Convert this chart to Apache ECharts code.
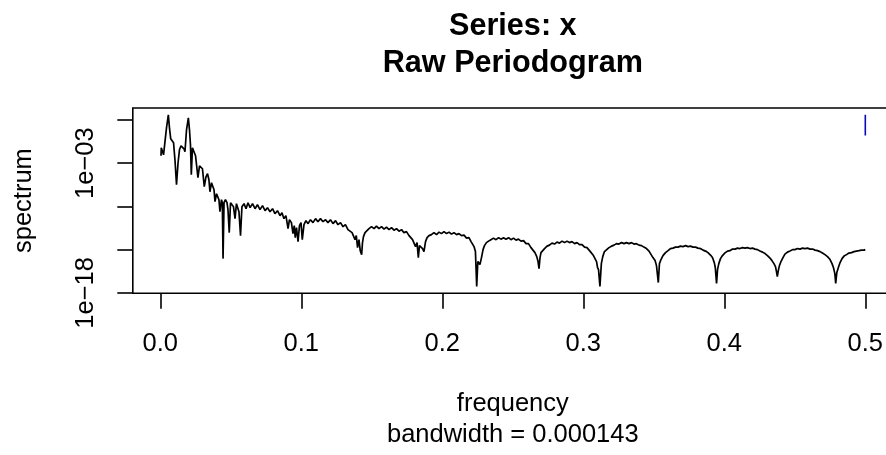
<!DOCTYPE html>
<html>
<head>
<meta charset="utf-8">
<script src="https://cdn.jsdelivr.net/npm/echarts/dist/echarts.min.js"></script>
<style>
  html, body { margin: 0; padding: 0; background: #ffffff; }
  #chart { width: 886px; height: 455px; }
</style>
</head>
<body>
<div id="chart"></div>
<script>
// ---- Data (frequency, log10 of spectrum) ----
const frequency = [
0.0005,0.0007,0.0016,0.0023,0.0030,0.0044,0.0057,0.0065,0.0074,0.0085,
0.0094,0.0104,0.0115,0.0126,0.0136,0.0147,0.0159,0.0168,0.0175,0.0186,
0.0199,0.0207,0.0214,0.0220,0.0228,0.0239,0.0250,0.0257,0.0267,0.0278,
0.0289,0.0299,0.0312,0.0324,0.0335,0.0345,0.0352,0.0363,0.0374,0.0381,
0.0388,0.0399,0.0409,0.0416,0.0423,0.0434,0.0440,0.0445,0.0452,0.0462,
0.0473,0.0480,0.0489,0.0498,0.0509,0.0519,0.0530,0.0540,0.0551,0.0558,
0.0569,0.0579,0.0594,0.0608,0.0622,0.0637,0.0654,0.0672,0.0689,0.0707,
0.0725,0.0743,0.0760,0.0778,0.0796,0.0813,0.0831,0.0849,0.0863,0.0877,
0.0891,0.0906,0.0916,0.0930,0.0941,0.0950,0.0957,0.0966,0.0977,0.0987,
0.0998,0.1007,0.1019,0.1033,
0.1048,0.1065,0.1083,0.1101,0.1118,0.1136,0.1154,0.1172,0.1189,0.1207,
0.1225,0.1243,0.1260,0.1278,0.1296,0.1313,0.1331,0.1345,0.1360,0.1370,
0.1381,0.1390,0.1399,0.1409,0.1418,0.1428,0.1434,0.1441,0.1452,0.1464,
0.1480,0.1498,0.1516,0.1533,0.1551,0.1569,0.1587,0.1604,0.1622,0.1640,
0.1657,0.1675,0.1693,0.1711,0.1728,0.1746,0.1764,0.1778,0.1789,0.1799,
0.1810,0.1821,0.1830,0.1838,0.1849,0.1860,0.1870,0.1881,0.1892,0.1906,
0.1923,0.1941,0.1959,0.1977,0.1994,0.2012,0.2030,0.2048,0.2065,0.2083,
0.2101,0.2118,0.2136,0.2154,0.2172,0.2189,0.2204,0.2214,0.2225,0.2235,
0.2244,0.2252,0.2260,0.2267,0.2278,0.2289,0.2299,0.2313,0.2328,
0.2345,0.2363,0.2381,0.2399,0.2416,0.2434,0.2452,0.2470,0.2487,0.2505,
0.2523,0.2540,0.2558,0.2576,0.2594,0.2611,0.2629,0.2643,0.2657,0.2670,
0.2679,0.2686,0.2693,0.2700,0.2712,0.2725,0.2743,0.2760,
0.2778,0.2796,0.2813,0.2831,0.2849,0.2867,0.2884,0.2902,0.2920,0.2938,
0.2955,0.2973,0.2991,0.3009,0.3026,0.3044,0.3058,0.3072,0.3083,0.3094,
0.3101,0.3108,0.3118,0.3128,0.3138,0.3150,0.3166,0.3182,
0.3200,0.3218,0.3235,0.3253,0.3271,0.3289,0.3306,0.3324,0.3342,0.3359,
0.3377,0.3395,0.3413,0.3430,0.3448,0.3466,0.3480,0.3494,0.3509,0.3519,
0.3532,0.3540,0.3551,0.3565,0.3583,0.3601,
0.3618,0.3636,0.3654,0.3672,0.3689,0.3707,0.3725,0.3743,0.3760,0.3778,
0.3796,0.3813,0.3831,0.3849,0.3867,0.3884,0.3902,0.3916,0.3929,0.3936,
0.3945,0.3952,0.3961,0.3973,0.3987,0.4005,
0.4023,0.4040,0.4058,0.4076,0.4094,0.4111,0.4129,0.4147,0.4164,0.4182,
0.4200,0.4218,0.4235,0.4253,0.4271,0.4289,0.4306,0.4324,0.4338,0.4352,
0.4363,0.4370,0.4376,0.4383,0.4391,0.4402,0.4416,0.4430,
0.4448,0.4466,0.4484,0.4501,0.4519,0.4537,0.4555,0.4572,0.4590,0.4608,
0.4626,0.4643,0.4661,0.4679,0.4696,0.4714,0.4732,0.4750,0.4764,0.4774,
0.4784,0.4790,0.4798,0.4809,0.4821,0.4835,0.4849,0.4867,0.4884,0.4902,
0.4920,0.4938,0.4955,0.4973,0.4991,0.5000
];

const log10Spectrum = [
-2.15,-1.23,-1.12,-2.04,-1.00,1.08,2.58,1.08,-0.19,-0.19,
-0.65,-2.62,-5.50,-2.96,-1.46,-1.00,-0.77,-1.35,-1.69,0.85,
2.23,0.85,-0.88,-4.35,-1.23,-1.35,-2.15,-3.19,-4.69,-3.31,
-3.19,-3.65,-5.73,-4.58,-4.23,-4.92,-6.31,-5.27,-5.27,-6.08,
-7.46,-6.54,-6.65,-7.23,-8.62,-7.23,-7.58,-14.04,-7.58,-7.23,
-7.58,-8.38,-11.04,-7.58,-7.46,-8.04,-9.42,-7.69,-7.81,-8.62,
-11.38,-8.04,-7.69,-8.27,-7.58,-8.15,-7.69,-8.27,-7.81,-8.38,
-7.92,-8.50,-8.15,-8.62,-8.27,-8.85,-8.50,-9.08,-8.73,-9.42,
-9.08,-10.58,-9.54,-9.88,-11.15,-10.23,-11.62,-10.46,-12.08,-10.23,
-9.88,-11.85,-10.12,-9.65,
-10.00,-9.54,-9.88,-9.42,-9.77,-9.42,-9.77,-9.54,-9.88,-9.54,
-10.00,-9.65,-10.12,-9.88,-10.35,-10.12,-10.69,-10.46,-11.04,-10.81,
-11.85,-11.38,-12.77,-11.85,-13.12,-13.58,-12.19,-11.50,-11.04,-10.81,
-10.58,-10.35,-10.58,-10.29,-10.58,-10.35,-10.63,-10.40,-10.69,-10.46,
-10.75,-10.58,-10.87,-10.69,-11.04,-10.92,-11.38,-11.27,-11.85,-11.62,
-12.65,-12.19,-13.92,-12.54,-12.31,-12.88,-13.23,-12.08,-11.62,-11.38,
-11.27,-11.04,-11.27,-10.98,-11.15,-10.92,-11.15,-10.98,-11.21,-11.04,
-11.27,-11.15,-11.38,-11.33,-11.67,-11.62,-12.08,-12.19,-12.65,-13.23,
-17.27,-14.38,-14.27,-14.73,-13.92,-13.00,-12.54,-12.19,-12.02,
-11.85,-11.67,-11.85,-11.62,-11.79,-11.62,-11.79,-11.62,-11.85,-11.67,
-11.90,-11.79,-12.02,-11.96,-12.31,-12.31,-12.77,-12.88,-13.35,-13.81,
-14.38,-15.19,-13.92,-13.35,-13.58,-12.88,-12.60,-12.48,
-12.25,-12.36,-12.13,-12.25,-12.02,-12.19,-12.02,-12.19,-12.08,-12.31,
-12.19,-12.42,-12.42,-12.71,-12.77,-13.12,-13.35,-13.69,-13.92,-14.38,
-15.07,-15.31,-17.27,-14.62,-13.81,-13.23,-13.00,-12.77,
-12.60,-12.48,-12.31,-12.36,-12.19,-12.31,-12.19,-12.31,-12.19,-12.36,
-12.31,-12.48,-12.54,-12.71,-12.88,-13.17,-13.35,-13.92,-14.27,-14.85,
-16.81,-14.62,-14.15,-13.69,-13.35,-13.12,
-12.88,-12.83,-12.71,-12.71,-12.60,-12.65,-12.54,-12.65,-12.60,-12.71,
-12.71,-12.83,-12.88,-13.06,-13.17,-13.35,-13.63,-13.92,-14.50,-15.07,
-16.92,-15.31,-14.62,-14.04,-13.69,-13.38,
-13.17,-13.12,-12.94,-12.94,-12.83,-12.88,-12.77,-12.83,-12.77,-12.88,
-12.83,-12.94,-13.00,-13.17,-13.29,-13.46,-13.69,-13.98,-14.27,-14.62,
-14.96,-15.54,-16.11,-15.42,-14.85,-14.38,-13.92,-13.52,
-13.29,-13.17,-13.00,-13.00,-12.88,-12.94,-12.83,-12.88,-12.83,-12.94,
-12.94,-13.06,-13.12,-13.23,-13.40,-13.58,-13.81,-14.15,-14.62,-15.07,
-15.77,-16.92,-15.65,-15.07,-14.50,-14.04,-13.75,-13.58,-13.40,-13.35,
-13.23,-13.17,-13.12,-13.06,-13.06,-13.00
];

// confidence-interval bar (blue) at the right edge
const ciFrequency = [0.5, 0.5];
const ciSpectrum = [380, 1.55];

// axis ticks / labels
const xTicks = [0.0, 0.1, 0.2, 0.3, 0.4, 0.5];
const yTicks = [1e-18, 1e-13, 1e-8, 1e-3, 1e2];
const yLabelTicks = [1e-18, 1e-3];

const titleLines = ['Series: x', 'Raw Periodogram'];
const xTitle = 'frequency';
const xSubTitle = 'bandwidth = 0.000143';
const yTitle = 'spectrum';

// ---- Build chart ----
const spectrumData = frequency.map((f, i) => [f, Math.pow(10, log10Spectrum[i])]);
const ciData = ciFrequency.map((f, i) => [f, ciSpectrum[i]]);

const FONT = '"Liberation Sans", Arial, Helvetica, sans-serif';
const chart = echarts.init(document.getElementById('chart'), null, { renderer: 'canvas' });

function fmtExp(v) {
  const e = Math.round(Math.log10(v));
  const s = String(Math.abs(e)).padStart(2, '0');
  return '1e' + (e < 0 ? '\u2212' : '+') + s;
}

const gridLeft = 132.8, gridTop = 108, gridW = 760, gridH = 185.3;
const cx = gridLeft + gridW / 2;
const LABEL_SIZE = 25.5;
const TITLE_SIZE = 30.6;

function txt(x, y, text, font, rot) {
  return {
    type: 'text', x: x, y: y, rotation: rot || 0,
    style: { text: text, font: font, fill: '#000', align: 'center', verticalAlign: 'middle', textAlign: 'center', textVerticalAlign: 'middle' }
  };
}

chart.setOption({
  animation: false,
  backgroundColor: '#ffffff',
  grid: {
    left: gridLeft, top: gridTop, width: gridW, height: gridH,
    show: true, borderColor: '#000000', borderWidth: 1.6,
    backgroundColor: 'transparent',
    containLabel: false, outerBoundsMode: 'none'
  },
  xAxis: {
    type: 'value',
    min: -0.0195, max: 0.5195,
    position: 'bottom',
    axisLine: { show: false, onZero: false },
    splitLine: { show: false },
    axisTick: { show: true, inside: false, length: 15.5, customValues: xTicks, lineStyle: { color: '#000', width: 1.6 } },
    axisLabel: {
      show: true, customValues: xTicks, margin: 38,
      color: '#000', fontFamily: FONT, fontSize: LABEL_SIZE,
      formatter: v => Number(v).toFixed(1)
    }
  },
  yAxis: {
    type: 'log', logBase: 10,
    min: Math.pow(10, -18.05), max: Math.pow(10, 3.37),
    position: 'left',
    axisLine: { show: false, onZero: false },
    splitLine: { show: false },
    axisTick: { show: true, inside: false, length: 15.5, customValues: yTicks, lineStyle: { color: '#000', width: 1.6 } },
    axisLabel: {
      show: true, customValues: yLabelTicks, rotate: 90, margin: 34,
      color: '#000', fontFamily: FONT, fontSize: LABEL_SIZE,
      formatter: v => fmtExp(v)
    }
  },
  series: [
    {
      type: 'line', data: spectrumData, showSymbol: false, symbol: 'none',
      lineStyle: { color: '#000000', width: 1.7 }, smooth: false, z: 3
    },
    {
      type: 'line', data: ciData, showSymbol: false, symbol: 'none',
      lineStyle: { color: '#0000ff', width: 1.6 }, z: 4
    }
  ],
  graphic: [
    txt(cx, 27, titleLines[0], 'bold ' + TITLE_SIZE + 'px ' + FONT),
    txt(cx, 63.5, titleLines[1], 'bold ' + TITLE_SIZE + 'px ' + FONT),
    txt(cx, 404, xTitle, LABEL_SIZE + 'px ' + FONT),
    txt(cx, 435, xSubTitle, LABEL_SIZE + 'px ' + FONT),
    txt(24, 200.6, yTitle, LABEL_SIZE + 'px ' + FONT, Math.PI / 2)
  ]
});
</script>
</body>
</html>
